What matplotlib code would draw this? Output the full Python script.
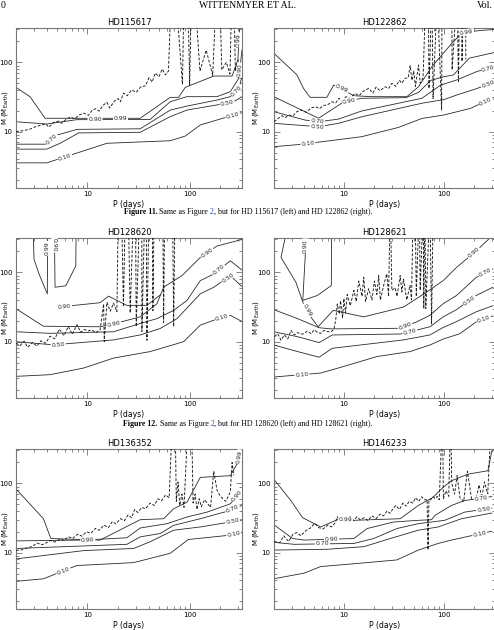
import numpy as np
import matplotlib
matplotlib.use('Agg')
import matplotlib.pyplot as plt
from matplotlib.ticker import FixedLocator, FuncFormatter, NullFormatter

plt.rcParams['font.family'] = ['DejaVu Sans']

# contour levels / dashed limit as (P [days], M [M_earth]) pairs
# values of 1000 mean the curve leaves through the top of the box

# HD 115617
hd115617_c99 = [(2.0, 43.6), (2.74, 32), (3.85, 15.6), (32.8, 15.6), (64.6, 31.3), (78, 31.3), (90.6, 43.6),
                (172, 63.5), (260, 63.5), (296, 108), (309, 330)]
hd115617_c90 = [(2.0, 13.9), (3.99, 12.9), (7.85, 14.9), (41, 15.0), (64.6, 27.1), (94, 32), (185, 32),
                (250, 37.8), (302, 58.8), (325, 151)]
hd115617_c70 = [(2.0, 6.6), (4.0, 6.6), (5.0, 8.9), (7.9, 10.8), (32.8, 11.0), (64.6, 20.5), (94, 23.4),
                (185, 28.6), (250, 32), (302, 42.2), (325, 62)]
hd115617_c50 = [(2.0, 5.6), (4.0, 5.6), (5.4, 6.8), (8.2, 9.6), (32.8, 9.8), (64.6, 16.5), (94, 20.5),
                (185, 24.3), (270, 27.1), (325, 32)]
hd115617_c10 = [(2.0, 3.55), (4.0, 3.55), (15.5, 6.8), (64.6, 7.4), (90.6, 8.65), (127, 12.5), (250, 16.8),
                (325, 18.8)]
hd115617_dash = [(2.0, 10), (2.4, 10.4), (2.8, 11), (3.1, 11.8), (3.5, 12.4), (3.9, 13), (4.2, 11.6), (4.6, 13.4),
                 (5.2, 14.2), (5.6, 13.2), (6.2, 15.2), (6.8, 16.2), (7.5, 15.4), (8.3, 17.4), (9.2, 18.5),
                 (10.2, 17.2), (11, 20), (12, 21.5), (13, 19.8), (14.2, 24), (15.5, 26.5), (16.5, 22), (18.5, 28),
                 (20, 30), (21, 27), (22.5, 36), (24.5, 33), (27, 40), (30, 37), (33, 44), (37, 46), (40, 60),
                 (43, 52), (46, 70), (50, 62), (54, 80), (58, 66), (62, 75), (66, 1000), (73, 1000), (85, 48),
                 (88, 1000), (96, 1000), (100, 47), (104, 1000), (112, 1000), (126, 75), (145, 150), (168, 65),
                 (182, 1000), (197, 1000), (206, 78), (228, 100), (248, 68), (258, 1000), (270, 1000), (280, 75),
                 (300, 110)]

# HD 122862
hd122862_c99 = [(2, 135), (3.39, 66), (3.95, 42), (4.6, 31.3), (6.76, 31.3), (7.9, 47), (10, 40), (12.5, 33),
                (19, 32), (42.7, 32), (55.8, 44.5), (76, 87), (121, 190), (152, 265), (215, 285), (330, 300)]
hd122862_c90 = [(2, 31.9), (5.58, 15.6), (10, 27), (15.1, 30.3), (42, 31), (56, 37), (74, 55), (100, 62),
                (125, 66), (180, 115), (330, 140)]
hd122862_c70 = [(2, 19.4), (4.1, 14.7), (5.58, 13.9), (8.86, 15.2), (15.1, 19.9), (60.3, 30.3), (93, 47),
                (136, 56), (215, 74), (330, 87)]
hd122862_c50 = [(2, 13.2), (5.58, 11.8), (8.86, 13.2), (15.1, 16.4), (60.3, 25.7), (100, 29), (136, 34),
                (215, 42), (330, 53)]
hd122862_c10 = [(2, 6.08), (3.8, 6.58), (15.1, 8.47), (35, 11.5), (60.3, 15.5), (100, 17.4), (185, 21.7),
                (330, 32)]
hd122862_dash = [(2, 13.9), (2.2, 15.5), (2.4, 17), (2.6, 16), (2.8, 17.4), (3.1, 17), (3.4, 19.5), (3.8, 20.5),
                 (4.2, 19), (4.7, 22), (5.2, 22.9), (5.7, 21.5), (6.3, 24), (6.8, 24.2), (7.6, 27), (8.3, 26),
                 (8.9, 30.3), (9.6, 28), (10.5, 32), (11.5, 30.5), (13, 35.7), (14.2, 33), (15.5, 38), (17.7, 42.2),
                 (19.5, 36), (21, 44), (23, 39), (25.9, 44.5), (28, 42), (30.2, 49.8), (33, 45), (36, 55),
                 (38, 50), (41, 58.8), (44, 60), (46, 90), (48, 55), (50, 75), (52, 45), (55.8, 91.5), (58, 50),
                 (62, 60), (66, 1000), (70, 1000), (71, 42), (76, 1000), (78, 30), (86, 1000), (95, 20.5),
                 (96, 1000), (120, 1000), (121, 78), (136, 1000), (140, 53), (144, 1000), (150, 1000), (152, 103),
                 (158, 1000), (165, 1000), (166, 110)]

# HD 128620
hd128620_u99 = [(2.89, 1000), (3.0, 155), (3.36, 94.6), (4.05, 49), (4.1, 1000)]
hd128620_u90 = [(4.71, 1000), (4.82, 61), (6.14, 64), (7.69, 124), (7.8, 1000)]
hd128620_a = [(5.2, 31.6), (13.3, 36.5), (16.1, 45.4), (19.4, 39.4), (24.3, 33.4), (38.2, 33.4), (52, 47.8)]
hd128620_b = [(2.0, 29.9), (3.71, 16.7), (13.3, 16.4), (18.7, 18.3), (32.8, 22.8), (47.9, 35.3), (55.6, 61.1),
              (84, 89.6), (127, 164), (185, 240), (330, 300)]
hd128620_c = [(2.0, 13.9), (4.3, 13.2), (18.0, 13.9), (32.8, 18.3), (47.9, 21.5), (69.7, 28.3), (94.2, 39.4),
              (127, 76), (172, 94.6), (250, 147), (330, 106)]
hd128620_d = [(2.0, 10), (4.64, 9.0), (18.0, 10.6), (32.8, 12.5), (51.5, 15.5), (75.2, 21.5), (127, 49),
              (172, 61), (250, 89.6), (330, 61)]
hd128620_e = [(2.0, 3.16), (4.3, 3.34), (9.14, 4.16), (18.0, 5.8), (41.1, 7.2), (87.3, 10), (127, 17.3),
              (172, 20.4), (250, 24), (330, 19.3)]
hd128620_dash = [(2.0, 9.5), (2.2, 8.8), (2.4, 10.2), (2.6, 8.3), (2.9, 9.8), (3.2, 8.6), (3.5, 10.3), (3.9, 9.5),
                 (4.3, 12), (4.8, 11), (5.3, 15.2), (5.9, 12.2), (6.5, 16.6), (7.1, 12.8), (7.9, 17.6), (8.6, 13.7),
                 (9.3, 15), (10.2, 14.3), (11, 14.8), (12, 13.5), (13.3, 14.8), (14.4, 35), (14.6, 10),
                 (15.5, 37), (16.7, 27.5), (18, 36), (19.4, 27), (20.1, 1000), (21.5, 1000), (22.5, 32),
                 (23.5, 1000), (25, 1000), (26.2, 26), (28.3, 1000), (29.5, 1000), (30, 16.5), (32.5, 1000),
                 (34, 1000), (34.1, 14), (36.5, 1000), (37.5, 1000), (38.2, 10.5), (40, 1000), (43, 1000),
                 (43.7, 28), (45, 1000), (54.5, 1000), (55.6, 19), (57, 1000), (68, 1000), (69.7, 16.5), (72, 1000)]

# HD 128621
hd128621_l99 = [(2.6, 330), (2.35, 164), (3.31, 72), (3.94, 35.3), (4.67, 22.8), (5.52, 16.4), (7.83, 28.3),
                (15.8, 22.8), (39.5, 31.6), (67.2, 51.8), (98.4, 76), (134, 118), (211, 204), (300, 330)]
hd128621_l90in = [(4.16, 330), (4.10, 164), (3.88, 39.4), (5.43, 46.4), (7.49, 64.6), (7.54, 330)]
hd128621_l90 = [(1.99, 29), (3.44, 21.5), (5.65, 15.9), (7.38, 15.3), (36.6, 15.6), (53.5, 19.3), (72.6, 24),
                (98.4, 35.3), (134, 46.4), (211, 84.8), (310, 112)]
hd128621_l70 = [(1.99, 13.9), (3.44, 11.8), (5.65, 9.7), (7.66, 12.5), (36.6, 12.9), (53.5, 14.7), (72.6, 16.4),
                (98.4, 22.8), (134, 29), (211, 46.4), (310, 61.1)]
hd128621_l50 = [(1.99, 8.96), (3.44, 7.2), (5.65, 5.97), (7.66, 8.03), (39.5, 10.6), (72.6, 12.5), (98.4, 16),
                (134, 19.5), (211, 27), (310, 33)]
hd128621_l10 = [(1.99, 3.09), (5.87, 3.53), (10, 4.4), (21.4, 6.1), (45.9, 7.2), (72.6, 8.96), (98.4, 10.9),
                (144, 13), (211, 19.3), (310, 23.5)]
hd128621_dash = [(2.02, 11.8), (2.18, 13), (2.35, 10.5), (2.54, 12.5), (2.75, 11), (2.96, 14.5), (3.2, 12.5),
                 (3.44, 13.5), (3.86, 12.8), (4.32, 14.2), (4.7, 13), (5.04, 14.8), (5.5, 13.5), (5.87, 13.2),
                 (6.3, 14.5), (6.83, 14), (7.4, 13.8), (7.95, 15), (8.3, 21), (8.59, 35), (9, 25), (9.26, 39),
                 (9.7, 22), (10, 42), (10.4, 26), (10.8, 48), (11.6, 33), (12.6, 55), (13.3, 38), (14.1, 75),
                 (15.2, 45), (15.8, 85), (16.5, 38), (17.7, 58), (19.1, 40), (20.2, 75), (21.4, 48), (22.3, 90),
                 (23.2, 40), (25, 65), (26.9, 95), (28, 45), (29.1, 1000), (30.2, 55), (32.6, 60), (34, 45),
                 (36.6, 90), (38, 52), (39.5, 80), (42.6, 40), (45.9, 65), (47.5, 40), (49.5, 1000), (51.6, 1000),
                 (53, 45), (56.8, 1000), (58, 55), (62.2, 1000), (63, 30), (64.6, 1000), (66, 30), (72.6, 1000),
                 (75.4, 18), (78.3, 1000)]

# HD 136352
hd136352_l99 = [(2.0, 83), (3.71, 30.9), (4.38, 16), (13.3, 15.2), (32.8, 29.9), (55.6, 30.9), (69.7, 43),
                (94.2, 53.5), (127, 122), (250, 129), (302, 211), (320, 330)]
hd136352_l90 = [(2.0, 14.8), (9.14, 15.2), (24.3, 16.4), (32.8, 22.7), (60, 26.2), (94.2, 32.7), (148, 38.5),
                (250, 50.7), (325, 80)]
hd136352_l70 = [(2.0, 11.5), (9.14, 12.5), (24.3, 13.2), (32.8, 16.9), (51.5, 18.9), (69.7, 24.8), (127, 30.9),
                (250, 40.7), (325, 48)]
hd136352_l50 = [(2.0, 8.13), (9.14, 10.7), (28.3, 11.5), (41.1, 14.4), (69.7, 21.1), (127, 23.5), (250, 27.7),
                (325, 29.9)]
hd136352_l10 = [(2.0, 3.86), (3.71, 4.2), (7.85, 6.52), (28.3, 7.19), (64.6, 9.8), (97, 15.5), (250, 17.9),
                (325, 19.3)]
hd136352_dash = [(2, 10.8), (2.3, 11), (2.6, 11.8), (2.9, 12.3), (3.2, 13.8), (3.6, 13), (4, 14), (4.4, 15),
                 (4.8, 14.2), (5.4, 15.8), (5.9, 15), (6.5, 17), (7.2, 16), (8, 18.5), (8.8, 17.3), (9.8, 20),
                 (10.8, 19), (12, 22.5), (13, 21), (14.5, 25), (16, 23), (17.5, 28), (19, 26), (21, 31), (23, 29),
                 (25, 35), (27, 32), (29, 42), (31, 38), (34, 45), (37, 43), (41, 52), (45, 48), (49, 60), (53, 56),
                 (58, 68), (63, 62), (68, 1000), (72, 1000), (74, 55), (77, 105), (80, 48), (84, 70), (88, 45),
                 (97, 1000), (104, 1000), (108, 52), (113, 70), (118, 42), (124, 60), (130, 46), (140, 58),
                 (160, 45), (172, 150), (185, 80), (200, 65), (225, 55), (250, 75), (260, 200), (270, 130)]

# HD 146233
hd146233_l99 = [(1.99, 115), (2.95, 56.5), (3.86, 32), (5.87, 23.5), (8.59, 29.9), (12.6, 29.3), (36.6, 30.9),
                (55.6, 48), (78.3, 63.1), (98.4, 87.7), (119, 109), (175, 136), (276, 152), (302, 293)]
hd146233_l90 = [(1.99, 25.4), (3.07, 16), (4.01, 15.2), (12.6, 16), (17.1, 22.3), (31.4, 27.7), (55.6, 29.3),
                (75.4, 29.9), (81.4, 34.5), (119, 48), (162, 56.5), (302, 64.5)]
hd146233_l70 = [(1.99, 14.1), (3.19, 13.2), (12.6, 13.6), (19.9, 16), (33.9, 22.3), (55.6, 26.2), (102, 29.3),
                (162, 38.5), (302, 44)]
hd146233_l50 = [(1.99, 10.9), (6.83, 11.2), (15.8, 12.2), (29.1, 16), (55.6, 21.1), (87.9, 23.5), (150, 30.9),
                (302, 37.3)]
hd146233_l10 = [(1.99, 4.2), (4.01, 5.07), (5.87, 6.31), (14.6, 7.05), (33.9, 7.86), (55.6, 10.9), (87.9, 13.6),
                (119, 15.2), (302, 20.4)]
hd146233_dash = [(2, 14.5), (2.3, 14), (2.5, 17.5), (2.8, 14.5), (3.1, 18.5), (3.4, 19.5), (3.7, 17.5), (4.2, 21),
                 (4.6, 22.5), (5.1, 26.5), (5.6, 23), (6.2, 22), (6.9, 25), (7.5, 23.5), (8.2, 27), (8.6, 33),
                 (9.2, 27.5), (10, 30), (10.8, 29), (11.6, 33), (12.5, 29), (13.5, 33), (14.5, 30), (16, 32),
                 (17.5, 29), (19, 34), (21, 31), (23, 36), (25, 34), (27, 40), (29, 37), (31, 43), (33, 48), (36, 42),
                 (39, 52), (42, 47), (45, 55), (49, 52), (52, 62), (56, 55), (60, 64), (64, 58), (68, 58),
                 (69.5, 11), (71, 58), (74, 58), (78, 64), (82, 60), (86, 65), (90, 58), (97, 1000), (99, 60),
                 (105, 78), (112, 65), (117, 1000), (120, 100), (128, 70), (136, 130), (145, 62), (158, 55),
                 (172, 150), (190, 58), (210, 60), (225, 95), (240, 62), (255, 105), (275, 70), (300, 1000)]

W, H = 494, 630
fig = plt.figure(figsize=(W / 100, H / 100), dpi=100)

# panel boxes in pixels: left, top, width, height
row_top = [28.3, 238.3, 449.3]
col_left = [16, 274]
col_w = [226, 221]
box_h = 159.5
ylab_x = [9.5, 261]   # right edge of the rotated y label

panels = [
    ('HD115617', 0, 0,
     [hd115617_c99, hd115617_c90, hd115617_c70, hd115617_c50, hd115617_c10], hd115617_dash,
     [(0, 2, 0.79, '0.99'), (0, 9, 0.6, '0.99'), (1, 2, 0.25, '0.90'), (1, 8, 0.3, '0.90'),
      (2, 1, 0.5, '0.70'), (2, 8, 0.7, '0.70'), (3, 7, 0.6, '0.50'), (4, 1, 0.3, '0.10'), (4, 6, 0.2, '0.10')]),
    ('HD122862', 0, 1,
     [hd122862_c99, hd122862_c90, hd122862_c70, hd122862_c50, hd122862_c10], hd122862_dash,
     [(0, 5, 0.8, '0.99'), (1, 2, 0.3, '0.90'), (2, 1, 0.9, '0.70'), (3, 0, 0.97, '0.50'),
      (4, 1, 0.1, '0.10'), (4, 6, 0.6, '0.10'), (3, 7, 0.6, '0.50'), (2, 8, 0.6, '0.70'), (0, 13, 0.3, '0.99')]),
    ('HD128620', 1, 0,
     [hd128620_u99, hd128620_u90, hd128620_a, hd128620_b, hd128620_c, hd128620_d, hd128620_e], hd128620_dash,
     [(0, 3, 0.5, '0.99'), (1, 0, 0.5, '0.90'), (2, 0, 0.15, '0.90'), (3, 2, 0.9, '0.90'), (3, 8, 0.4, '0.90'),
      (4, 8, 0.3, '0.70'), (5, 1, 0.08, '0.50'), (5, 7, 0.85, '0.50'), (6, 7, 0.5, '0.10')]),
    ('HD128621', 1, 1,
     [hd128621_l99, hd128621_l90in, hd128621_l90, hd128621_l70, hd128621_l50, hd128621_l10], hd128621_dash,
     [(0, 3, 0.5, '0.99'), (1, 0, 0.45, '0.90'), (2, 4, 0.3, '0.90'), (3, 4, 0.58, '0.70'), (5, 0, 0.6, '0.10'),
      (0, 11, 0.88, '0.90'), (2, 9, 0.55, '0.70'), (3, 8, 0.65, '0.50'), (5, 8, 0.45, '0.10')]),
    ('HD136352', 2, 0,
     [hd136352_l99, hd136352_l90, hd136352_l70, hd136352_l50, hd136352_l10], hd136352_dash,
     [(0, 10, 0.3, '0.99'), (1, 1, 0.1, '0.90'), (4, 1, 0.6, '0.10'), (1, 7, 0.6, '0.90'),
      (2, 7, 0.2, '0.70'), (3, 6, 0.2, '0.50'), (4, 6, 0.3, '0.10')]),
    ('HD146233', 2, 1,
     [hd146233_l99, hd146233_l90, hd146233_l70, hd146233_l50, hd146233_l10], hd146233_dash,
     [(0, 4, 0.5, '0.99'), (1, 2, 0.55, '0.90'), (2, 1, 0.47, '0.70'), (1, 10, 0.6, '0.70'),
      (2, 7, 0.7, '0.50'), (4, 7, 0.7, '0.10')]),
]


def put_label(ax, pts, seg, t, text):
    lp = np.log10(np.array(pts, dtype=float))
    seg = min(seg, len(lp) - 2)
    q = lp[seg] + t * (lp[seg + 1] - lp[seg])
    a = ax.transData.transform(10 ** lp[seg])
    b = ax.transData.transform(10 ** lp[seg + 1])
    ang = np.degrees(np.arctan2(b[1] - a[1], b[0] - a[0]))
    if ang > 90:
        ang -= 180
    if ang < -90:
        ang += 180
    ax.text(10 ** q[0], 10 ** q[1], text, rotation=ang, rotation_mode='anchor', ha='center', va='center',
            fontsize=4.4, color='#222', zorder=5, clip_on=True,
            bbox=dict(boxstyle='square,pad=0.12', fc='white', ec='none'))


for name, r, c, lines, dash, labels in panels:
    left = col_left[c]
    w = col_w[c]
    top = row_top[r]
    ax = fig.add_axes([left / W, 1 - (top + box_h) / H, w / W, box_h / H])
    ax.set_xscale('log')
    ax.set_yscale('log')
    ax.set_xlim(2, 325)
    ax.set_ylim(1.55, 310)

    for pts in lines:
        arr = np.array(pts)
        ax.plot(arr[:, 0], arr[:, 1], color='#2a2a2a', lw=0.6, zorder=2)
    arr = np.array(dash)
    ax.plot(arr[:, 0], arr[:, 1], color='#1a1a1a', lw=0.65, dashes=(3.2, 1.8), zorder=3)

    for k, seg, t, txt in labels:
        put_label(ax, lines[k], seg, t, txt)

    ax.xaxis.set_major_locator(FixedLocator([10, 100]))
    ax.yaxis.set_major_locator(FixedLocator([10, 100]))
    minors = [v * d for d in (1, 10, 100) for v in range(2, 10)]
    ax.xaxis.set_minor_locator(FixedLocator(minors))
    ax.yaxis.set_minor_locator(FixedLocator(minors))
    ax.xaxis.set_minor_formatter(NullFormatter())
    ax.yaxis.set_minor_formatter(NullFormatter())
    fmt = FuncFormatter(lambda v, pos: '%d' % v)
    ax.xaxis.set_major_formatter(fmt)
    ax.yaxis.set_major_formatter(fmt)
    ax.tick_params(which='both', direction='in', top=True, right=True, width=0.5, color='#555',
                   labelsize=5, pad=2.5)
    ax.tick_params(which='major', length=4)
    ax.tick_params(which='minor', length=2)
    for s in ax.spines.values():
        s.set_linewidth(0.8)
        s.set_color('#777')

    ax.set_title(name, fontsize=6, pad=2.5)
    ax.set_xlabel('P (days)', fontsize=5.5, labelpad=2)
    ax.set_ylabel(r'M (M$_{\rm Earth}$)', fontsize=5)
    ax.yaxis.set_label_coords((ylab_x[c] - left) / w, 0.5)

# running head
serif = ['Liberation Serif', 'DejaVu Serif']
fig.text(0.5 / W, 1 - 5 / H, '0', fontsize=7, family=serif, ha='left', va='center')
fig.text(248 / W, 1 - 5 / H, 'WITTENMYER ET AL.', fontsize=7, family=serif, ha='center', va='center')
fig.text(493 / W, 1 - 5 / H, 'Vol.', fontsize=7, family=serif, ha='right', va='center')


def caption(y, num, stars):
    parts = [('Figure %d.' % num, 'bold', 'black', False),
             ('Same as Figure', 'normal', 'black', True),
             ('2', 'normal', '#2a3fbf', True),
             (', but for %s (left) and %s (right).' % stars, 'normal', 'black', False)]
    r = fig.canvas.get_renderer()
    probe1 = fig.text(0, 0, 'x x', fontsize=5.7, family=serif)
    probe2 = fig.text(0, 0, 'xx', fontsize=5.7, family=serif)
    space = probe1.get_window_extent(r).width - probe2.get_window_extent(r).width
    probe1.remove()
    probe2.remove()
    objs = []
    total = 0
    for s, wt, col, sp in parts:
        t = fig.text(0, 1 - y / H, s, fontsize=5.7, family=serif, weight=wt, color=col, va='center')
        wd = t.get_window_extent(r).width
        total += wd + (space if sp else 0)
        objs.append((t, wd, sp))
    x = 248 - total / 2
    for t, wd, sp in objs:
        if sp:
            x += space
        t.set_x(x / W)
        x += wd


caption(212.5, 11, ('HD 115617', 'HD 122862'))
caption(423.5, 12, ('HD 128620', 'HD 128621'))

fig.savefig('out.png', dpi=100)
